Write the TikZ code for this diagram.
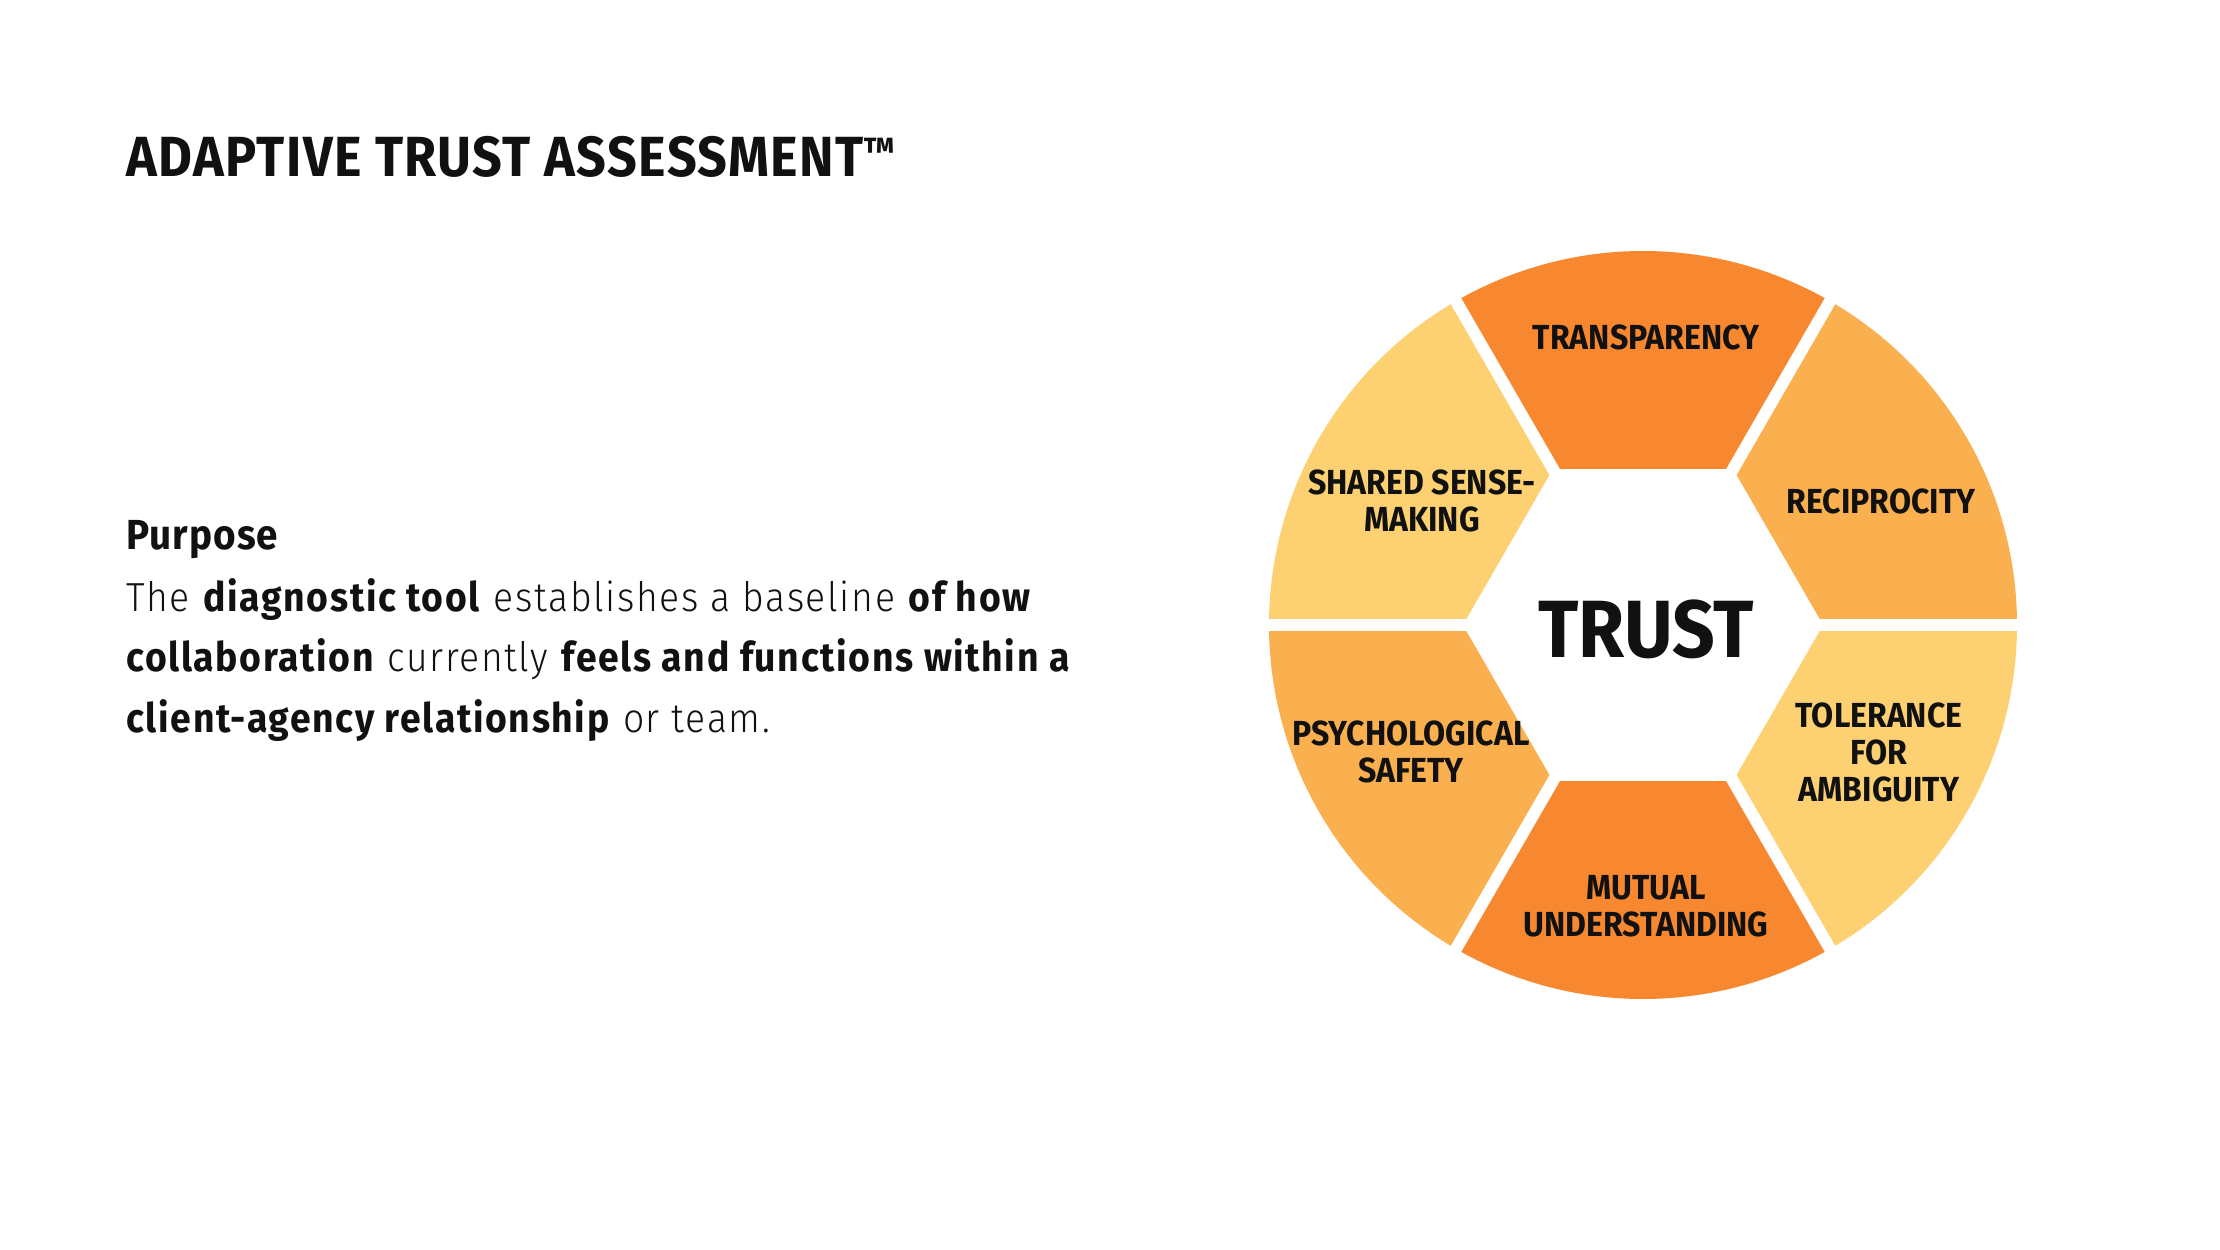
\documentclass[tikz,border=0pt]{standalone}
\usepackage{fontspec}
\setmainfont{Fira Sans}[FakeStretch=0.92,UprightFont=* Light,BoldFont=* Bold]
\newfontfamily\leftfont{Fira Sans}[FakeStretch=0.92,LetterSpace=2.5,UprightFont=* Light,BoldFont=* Bold]
\newfontfamily\bodyfont{Fira Sans}[FakeStretch=0.92,LetterSpace=4,UprightFont=* Light,BoldFont=* Bold]
\definecolor{segdark}{HTML}{F7882F}
\definecolor{segmid}{HTML}{FBB04F}
\definecolor{seglight}{HTML}{FDD171}
\definecolor{ink}{HTML}{111111}
\begin{document}
\begin{tikzpicture}[x=0.5pt,y=0.5pt,
  lbl/.style={font=\bfseries\fontsize{17.4}{18.5}\selectfont, align=center, inner sep=0pt, text=ink},
  bodytext/.style={anchor=base west, inner sep=0pt, text=ink, font=\bodyfont\fontsize{20.3}{30}\selectfont},
  gapline/.style={white, line width=6pt}]
\fill[white] (0,0) rectangle (2220,1249);
\useasboundingbox (0,0) rectangle (2220,1249);
% wheel
\coordinate (C) at (1643,624);
\foreach \a/\c in {90/segdark,30/segmid,-30/seglight,-90/segdark,-150/segmid,150/seglight}{
  \fill[\c] (C) -- ++(\a-30:374) arc[start angle=\a-30, end angle=\a+30, radius=187pt] -- cycle;
}
\fill[white] (C) ++(0:180) -- ++(120:180) -- ++(180:180) -- ++(240:180) -- ++(300:180) -- ++(0:180) -- cycle;
\foreach \a in {0,60,...,300}{
  \draw[gapline] (C) -- ++(\a:400);
}
% wheel labels
\node[lbl] (transp) at (1646,912) {TRANSPARENCY};
\node[lbl] (recip) at (1881,748) {RECIPROCITY};
\node[lbl] (toler) at (1879,497) {TOLERANCE\\FOR\\AMBIGUITY};
\node[lbl] (mutual) at (1646,343) {MUTUAL\\UNDERSTANDING};
\node[lbl] (psych) at (1411,497) {PSYCHOLOGICAL\\SAFETY};
\node[lbl] (shared) at (1422,748) {SHARED SENSE-\\MAKING};
\node[inner sep=0pt, text=ink, font=\bfseries\fontsize{40.6}{42}\selectfont] (trust) at (1646,620) {TRUST};
% left text
\node[anchor=base west, inner sep=0pt, text=ink, font=\leftfont\bfseries\fontsize{28.3}{30}\selectfont] (title) at (126,1072) {ADAPTIVE TRUST ASSESSMENT\raisebox{6.2pt}{\fontsize{19}{19}\selectfont ™}};
\node[anchor=base west, inner sep=0pt, text=ink, font=\leftfont\bfseries\fontsize{21}{25}\selectfont] (purpose) at (126,699) {Purpose};
\node[bodytext] (line1) at (126,638) {The \textbf{diagnostic tool} establishes a baseline \textbf{of how}};
\node[bodytext] (line2) at (126,578) {\textbf{collaboration} currently \textbf{feels and functions within a}};
\node[bodytext] (line3) at (126,517) {\textbf{client-agency relationship} or team.};
\end{tikzpicture}
\end{document}
